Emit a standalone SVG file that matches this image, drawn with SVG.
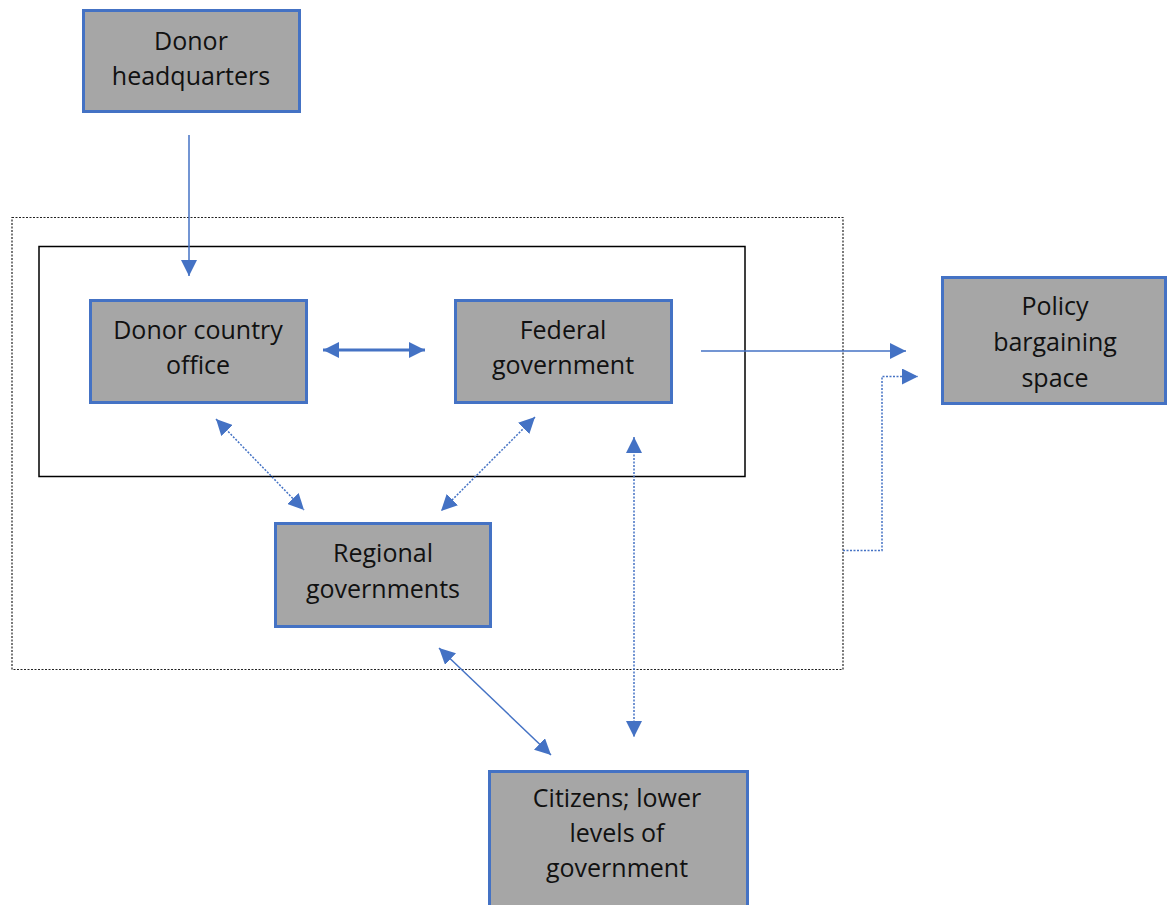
<svg xmlns="http://www.w3.org/2000/svg" width="1167" height="905" viewBox="0 0 1167 905">
<style>
.box{fill:#a6a6a6;stroke:#4472c4;stroke-width:3}
.lbl{font-family:"Open Sans","Noto Sans",sans-serif;font-size:25px;fill:#111;text-anchor:middle}
.c{fill:none;stroke:#4472c4;stroke-width:1.5}
.dot{stroke-dasharray:2 1.5}
</style>
<defs>
<marker id="ah" viewBox="0 0 10 10" refX="10" refY="5" markerWidth="16" markerHeight="16" markerUnits="userSpaceOnUse" orient="auto-start-reverse">
<path d="M0,0 L10,5 L0,10 z" fill="#4472c4"/>
</marker>
</defs>
<rect id="outer" x="12" y="217.5" width="831" height="452" fill="none" stroke="#222" stroke-width="1.2" stroke-dasharray="2 1.5"/>
<rect id="inner" x="39" y="246.5" width="706" height="230" fill="none" stroke="#000" stroke-width="1.5"/>
<g id="connectors">
<line class="c" x1="189" y1="135" x2="189" y2="276" marker-end="url(#ah)"/>
<line class="c" x1="323" y1="350" x2="425" y2="350" style="stroke-width:3" marker-start="url(#ah)" marker-end="url(#ah)"/>
<line class="c" x1="701" y1="351" x2="906" y2="351" marker-end="url(#ah)"/>
<polyline class="c dot" points="843,550.5 882,550.5 882,376.5 918,376.5" marker-end="url(#ah)"/>
<line class="c dot" x1="216" y1="419" x2="304" y2="510" marker-start="url(#ah)" marker-end="url(#ah)"/>
<line class="c dot" x1="535" y1="417" x2="441" y2="511" marker-start="url(#ah)" marker-end="url(#ah)"/>
<line class="c dot" x1="634" y1="437" x2="634" y2="737" marker-start="url(#ah)" marker-end="url(#ah)"/>
<line class="c" x1="439" y1="648" x2="551" y2="755" marker-start="url(#ah)" marker-end="url(#ah)"/>
</g>
<g id="donor-hq">
<rect class="box" x="83.5" y="10.5" width="216" height="101"/>
<text class="lbl" x="191" y="50">Donor</text>
<text class="lbl" x="191" y="85">headquarters</text>
</g>
<g id="donor-country-office">
<rect class="box" x="90.5" y="300.5" width="216" height="102"/>
<text class="lbl" x="198" y="339">Donor country</text>
<text class="lbl" x="198" y="374">office</text>
</g>
<g id="federal-government">
<rect class="box" x="455.5" y="300.5" width="216" height="102"/>
<text class="lbl" x="563" y="339">Federal</text>
<text class="lbl" x="563" y="374">government</text>
</g>
<g id="regional-governments">
<rect class="box" x="275.5" y="523.5" width="215" height="103"/>
<text class="lbl" x="383" y="562">Regional</text>
<text class="lbl" x="383" y="598">governments</text>
</g>
<g id="policy-bargaining-space">
<rect class="box" x="942.5" y="277.5" width="223" height="126"/>
<text class="lbl" x="1055" y="315">Policy</text>
<text class="lbl" x="1055" y="351">bargaining</text>
<text class="lbl" x="1055" y="387">space</text>
</g>
<g id="citizens">
<rect class="box" x="489.5" y="771.5" width="258" height="150"/>
<text class="lbl" x="617" y="807">Citizens; lower</text>
<text class="lbl" x="617" y="842">levels of</text>
<text class="lbl" x="617" y="877">government</text>
</g>
</svg>
